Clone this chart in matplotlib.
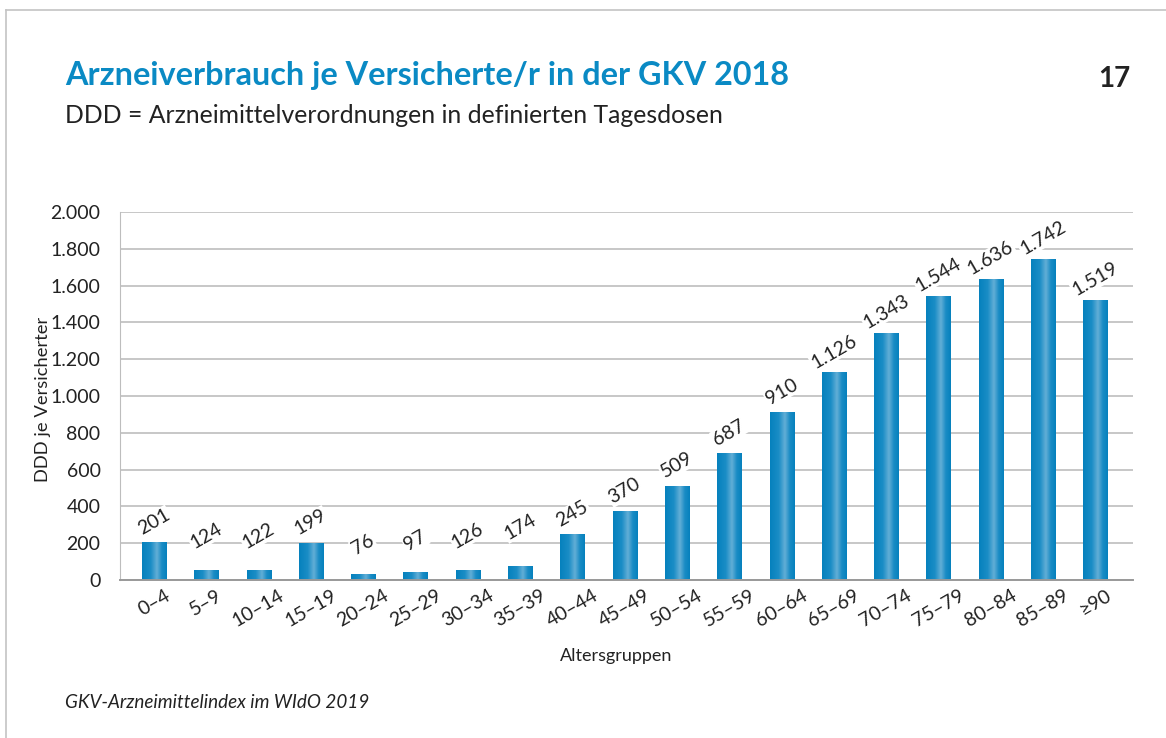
import numpy as np
import matplotlib
matplotlib.use("Agg")
import matplotlib.pyplot as plt
from matplotlib.colors import LinearSegmentedColormap
from matplotlib.lines import Line2D

# Data
age_groups = ["0–4", "5–9", "10–14", "15–19", "20–24", "25–29", "30–34", "35–39",
              "40–44", "45–49", "50–54", "55–59", "60–64", "65–69", "70–74",
              "75–79", "80–84", "85–89", "≥90"]
# printed value labels
ddd_labels = [201, 124, 122, 199, 76, 97, 126, 174, 245, 370, 509, 687, 910,
              1126, 1343, 1544, 1636, 1742, 1519]
# bar heights as drawn (the small groups are drawn lower than their labels)
bar_heights = [205, 54, 54, 201, 32, 43, 54, 76, 250, 375, 510, 690, 912,
               1130, 1345, 1545, 1636, 1745, 1522]

yticks = [0, 200, 400, 600, 800, 1000, 1200, 1400, 1600, 1800, 2000]

BLUE = "#0a8ac4"
TEXT = "#222222"
plt.rcParams["font.family"] = ["Lato", "DejaVu Sans"]


def fmt_de(v):
    return f"{v:,}".replace(",", ".")


fig = plt.figure(figsize=(11.66, 7.38), dpi=100)
ax = fig.add_axes([0.1029, 0.2141, 0.8688, 0.4986])

x = np.arange(len(age_groups))
bars = ax.bar(x, bar_heights, width=0.46, color="#0a84bd", zorder=2)

# horizontal gradient on the bars: dark edges, light stripe
grad_cmap = LinearSegmentedColormap.from_list(
    "bar", [(0, "#0681bd"), (0.35, "#1a8dc6"), (0.6, "#62aed6"), (0.8, "#1a8cc5"), (1, "#0681bd")])
grad = np.linspace(0, 1, 64).reshape(1, -1)
for b in bars:
    x0, w, h = b.get_x(), b.get_width(), b.get_height()
    im = ax.imshow(grad, extent=[x0, x0 + w, 0, h], aspect="auto", cmap=grad_cmap,
                   zorder=2.5, interpolation="bilinear")
    im.set_clip_path(b)

for xi, lab in zip(x, ddd_labels):
    ax.annotate(fmt_de(lab), (xi, lab), xytext=(3, 10), textcoords="offset points",
                ha="center", va="bottom", rotation=30, rotation_mode="anchor",
                fontsize=14, color=TEXT, zorder=4,
                bbox=dict(boxstyle="square,pad=0.05", fc="white", ec="none"))

ax.set_xlim(-0.65, 18.72)
ax.set_ylim(0, 2000)
ax.set_yticks(yticks)
ax.set_yticklabels([fmt_de(v) for v in yticks], fontsize=14, color=TEXT)
ax.set_xticks(x)
ax.set_xticklabels(age_groups, rotation=30, ha="center", va="top", fontsize=14, color=TEXT)
ax.tick_params(axis="x", length=0, pad=5)
ax.tick_params(axis="y", length=0, pad=14)

ax.yaxis.grid(True, color="#bdbdbd", linewidth=1.2)
ax.set_axisbelow(True)
for s in ["top", "right"]:
    ax.spines[s].set_visible(False)
ax.spines["left"].set_color("#bdbdbd")
ax.spines["bottom"].set_color("#999999")
ax.spines["bottom"].set_linewidth(1.4)

ax.set_ylabel("DDD je Versicherter", fontsize=13.2, color=TEXT)
ax.yaxis.set_label_coords(-0.068, 0.49)
ax.set_xlabel("Altersgruppen", fontsize=13, color=TEXT)
ax.xaxis.set_label_coords(0.49, -0.185)

fig.text(65 / 1166, 1 - 85 / 738, "Arzneiverbrauch je Versicherte/r in der GKV 2018",
         fontsize=23.3, fontweight="bold", color=BLUE, ha="left", va="baseline")
fig.text(65 / 1166, 1 - 123 / 738, "DDD = Arzneimittelverordnungen in definierten Tagesdosen",
         fontsize=17.8, color=TEXT, ha="left", va="baseline")
fig.text(1130 / 1166, 1 - 87 / 738, "17", fontsize=20, fontweight="bold", color=TEXT,
         ha="right", va="baseline")
fig.text(65 / 1166, 1 - 708 / 738, "GKV-Arzneimittelindex im WIdO 2019",
         fontsize=13.6, style="italic", color=TEXT, ha="left", va="baseline")

# page frame (top and left edges visible)
fig.add_artist(Line2D([6 / 1166, 1], [1 - 10 / 738, 1 - 10 / 738], color="#c4c4c4", linewidth=1.2))
fig.add_artist(Line2D([6 / 1166, 6 / 1166], [0, 1 - 10 / 738], color="#c4c4c4", linewidth=1.2))

fig.savefig("out.png", dpi=100)
